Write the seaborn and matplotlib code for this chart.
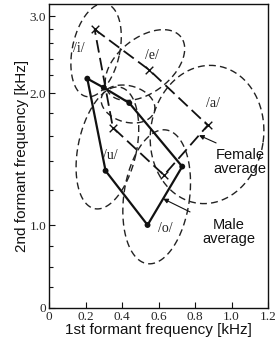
### VOWEL FORMANT CHART (F1 vs F2, male / female averages) ###

import numpy as np
import pandas as pd
import matplotlib
matplotlib.use("Agg")
import matplotlib.pyplot as plt
import seaborn as sns

# vowels in polygon order
vowels = ["/i/", "/e/", "/a/", "/o/", "/u/"]

# male average formants [kHz]
male_f1 = [0.21, 0.30, 0.44, 0.73, 0.54, 0.31]
male_f2 = [2.16, 2.06, 1.90, 1.36, 1.00, 1.33]

# female average formants [kHz]
female_f1 = [0.25, 0.55, 0.87, 0.63, 0.35]
female_f2 = [2.80, 2.26, 1.69, 1.30, 1.67]

# distribution ellipses: centre [kHz], semi axes (F1-kHz equivalent), tilt [deg]
ell_f1 = [0.258, 0.526, 0.866, 0.433, 0.32, 0.59]
ell_f2 = [2.51, 2.32, 1.61, 1.89, 1.50, 1.16]
ell_w = [0.13, 0.25, 0.31, 0.15, 0.16, 0.18]
ell_h = [0.26, 0.15, 0.38, 0.10, 0.34, 0.37]
ell_tilt = [-12, 38, -8, -15, -12, -8]

x_ticks = [0, 0.2, 0.4, 0.6, 0.8, 1.0, 1.2]
x_ticklabels = ["0", "0.2", "0.4", "0.6", "0.8", "1.0", "1.2"]
y_ticks = [0, 1, 2, 3]
y_ticklabels = ["0", "1.0", "2.0", "3.0"]
y_minor = [0.25, 0.5, 0.75, 1.2, 1.4, 1.6, 1.8, 2.2, 2.4, 2.6, 2.8]

# frequency scale: linear below 1 kHz, logarithmic above
K = 2.29

def fwd(f):
    f = np.asarray(f, dtype=float)
    return np.where(f <= 1, f, 1 + K * np.log(np.maximum(f, 1e-9)))

def inv(t):
    t = np.asarray(t, dtype=float)
    return np.where(t <= 1, t, np.exp((t - 1) / K))

T_TOP = 3.663

sns.set_theme(style="white")
plt.rcParams["font.family"] = ["Liberation Sans", "DejaVu Sans"]

fig = plt.figure(figsize=(2.76, 3.41), dpi=100)
ax = fig.add_axes([49 / 276, 33 / 341, 219 / 276, 304 / 341])
ax.set_yscale("function", functions=(fwd, inv))
ax.set_xlim(0, 1.2)
ax.set_ylim(0, float(inv(T_TOP)))

# aspect factor: scale units -> F1-kHz equivalent on screen
px_khz = 219 / 1.2
px_unit = 304 / T_TOP
ratio = px_unit / px_khz

# ellipses
phi = np.linspace(0, 2 * np.pi, 200)
for i in range(len(ell_f1)):
    th = np.deg2rad(ell_tilt[i])
    u0 = ell_f1[i]
    v0 = float(fwd(ell_f2[i])) * ratio
    a, b = ell_w[i], ell_h[i]
    u = u0 + a * np.cos(phi) * np.cos(th) - b * np.sin(phi) * np.sin(th)
    v = v0 + a * np.cos(phi) * np.sin(th) + b * np.sin(phi) * np.cos(th)
    e = pd.DataFrame({"f1": u, "f2": inv(v / ratio)})
    sns.lineplot(data=e, x="f1", y="f2", sort=False, ax=ax, color="#222222",
                 lw=1.0, estimator=None)
    ax.lines[-1].set_dashes((5, 3))

# female polygon (dashed, x markers)
fem = pd.DataFrame({"f1": female_f1 + female_f1[:1], "f2": female_f2 + female_f2[:1]})
sns.lineplot(data=fem, x="f1", y="f2", sort=False, estimator=None, ax=ax,
             color="#111111", lw=1.3)
ax.lines[-1].set_dashes((7, 3))
sns.scatterplot(x=female_f1, y=female_f2, marker="x", s=30, color="#111111",
                linewidth=1.0, ax=ax, zorder=5)

# male polygon (solid, dots)
mal = pd.DataFrame({"f1": male_f1 + male_f1[:1], "f2": male_f2 + male_f2[:1]})
sns.lineplot(data=mal, x="f1", y="f2", sort=False, estimator=None, ax=ax,
             color="#111111", lw=1.6)
sns.scatterplot(x=male_f1, y=male_f2, marker="o", s=18, color="#111111",
                edgecolor="none", ax=ax, zorder=5)

# vowel labels
label_pos = {"/i/": (0.137, 0.855), "/e/": (0.470, 0.832), "/a/": (0.749, 0.674),
             "/u/": (0.279, 0.503), "/o/": (0.530, 0.263)}
for v in vowels:
    ax.text(*label_pos[v], v, transform=ax.transAxes, ha="center", va="center",
            fontsize=10, family="Liberation Serif", color="#222222")

# arrows to averages (targets on the /a/-/o/ segments)
fa = (female_f1[2] + 0.2 * (female_f1[3] - female_f1[2]),
      float(inv(fwd(female_f2[2]) + 0.2 * (fwd(female_f2[3]) - fwd(female_f2[2])))))
ma = (male_f1[3] + 0.55 * (male_f1[4] - male_f1[3]),
      float(inv(fwd(male_f2[3]) + 0.55 * (fwd(male_f2[4]) - fwd(male_f2[3])))))
ax.annotate("", xy=fa, xycoords="data", xytext=(0.763, 0.543), textcoords="axes fraction",
            arrowprops=dict(arrowstyle="-|>", color="#111111", lw=0.8, mutation_scale=7,
                            shrinkA=0, shrinkB=0))
ax.annotate("", xy=ma, xycoords="data", xytext=(0.644, 0.316), textcoords="axes fraction",
            arrowprops=dict(arrowstyle="-|>", color="#111111", lw=0.8, mutation_scale=7,
                            shrinkA=0, shrinkB=0))
ax.text(0.872, 0.480, "Female\naverage", transform=ax.transAxes, ha="center", va="center",
        fontsize=10.5, linespacing=0.95, color="#111111")
ax.text(0.822, 0.250, "Male\naverage", transform=ax.transAxes, ha="center", va="center",
        fontsize=10.5, linespacing=0.95, color="#111111")

# axes, ticks
ax.set_xticks(x_ticks)
ax.set_xticklabels(x_ticklabels, family="Liberation Serif", fontsize=9.5)
ax.set_yticks(y_ticks)
ax.set_yticklabels(y_ticklabels, family="Liberation Serif", fontsize=9.5)
ax.set_yticks(y_minor, minor=True)
ax.xaxis.set_minor_locator(matplotlib.ticker.NullLocator())
ax.tick_params(which="both", direction="in", color="#111111", width=0.8,
               left=True, bottom=True)
ax.tick_params(which="major", length=4, pad=2)
ax.tick_params(which="minor", length=3)
for s in ax.spines.values():
    s.set_color("#111111")
    s.set_linewidth(1.0)
ax.set_xlabel("1st formant frequency [kHz]", fontsize=11, labelpad=0, color="#111111")
ax.set_ylabel("2nd formant frequency [kHz]", fontsize=11, labelpad=0, color="#111111")

fig.savefig("out.png", dpi=100)
